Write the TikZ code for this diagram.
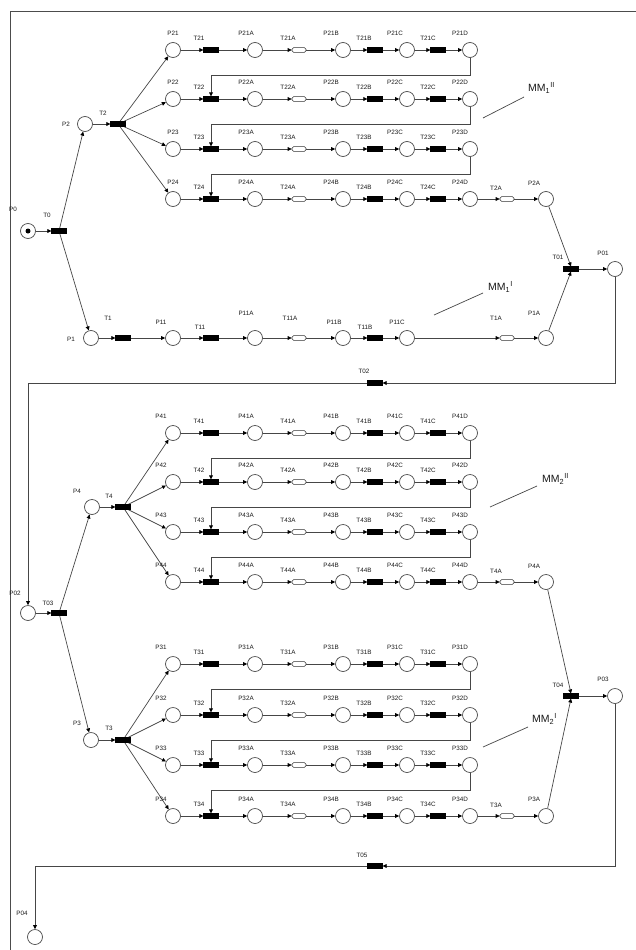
\documentclass[tikz,border=0pt]{standalone}
\usepackage{fontspec}
\setmainfont{Liberation Sans}
\usetikzlibrary{arrows.meta}
\pgfdeclarelayer{bg}
\pgfsetlayers{bg,main}
\tikzset{
 place/.style={circle,draw=gray!60!black,fill=white,line width=0.7pt,minimum size=15pt,inner sep=0pt},
 tbar/.style={rectangle,fill=black,draw=black,line width=0.3pt,minimum width=15pt,minimum height=4.8pt,inner sep=0pt},
 tbarh/.style={rectangle,rounded corners=1.6pt,fill=white,draw=black!80,line width=0.55pt,minimum width=14pt,minimum height=4.8pt,inner sep=0pt},
 lbl/.style={font=\fontsize{6.3}{7}\selectfont,inner sep=0pt,text=black!90},
 arc/.style={draw=gray!55!black,line width=0.7pt,-{Triangle[length=4pt,width=3.8pt,color=black]}},
 wire/.style={draw=gray!55!black,line width=0.7pt},
 mm/.style={font=\fontsize{10.5}{12}\selectfont,anchor=west,inner sep=0pt,text=black!90},
 token/.style={circle,fill=black,inner sep=0pt,minimum size=5pt},
}
\begin{document}
\begin{tikzpicture}[x=1pt,y=-1pt]
\useasboundingbox (0,0) rectangle (636,950);
\draw[line width=0.9pt,draw=black!70] (10,950) -- (10,11) -- (636,11);

% ---------- main places / transitions ----------
\node[place] (P0) at (28,231) {};
\node[token] (tok) at (P0) {};
\node[tbar] (T0) at (59,231) {};
\node[place] (P2) at (85,124) {};
\node[tbar] (T2) at (118,124) {};
\node[place] (P1) at (91,338) {};
\node[tbar] (T1) at (123,338) {};
\node[place] (P11) at (173,338) {};
\node[tbar] (T11) at (211,338) {};
\node[place] (P11A) at (255,338) {};
\node[tbarh] (T11A) at (299,338) {};
\node[place] (P11B) at (343,338) {};
\node[tbar] (T11B) at (375,338) {};
\node[place] (P11C) at (407,338) {};
\node[tbarh] (T1A) at (507,338) {};
\node[place] (P1A) at (546,338) {};
\node[tbar] (T01) at (571,269) {};
\node[place] (P01) at (615,269) {};
\node[tbar] (T02) at (375,383) {};
\node[place] (P02) at (28,613) {};
\node[tbar] (T03) at (59,613) {};
\node[place] (P4) at (92,507) {};
\node[tbar] (T4) at (123,507) {};
\node[place] (P3) at (91,740) {};
\node[tbar] (T3) at (123,740) {};
\node[tbar] (T04) at (571,696) {};
\node[place] (P03) at (615,696) {};
\node[tbar] (T05) at (375,866) {};
\node[place] (P04) at (35,937) {};
\node[tbarh] (T2A) at (507,199) {};
\node[place] (P2A) at (546,199) {};
\node[tbarh] (T4A) at (507,582) {};
\node[place] (P4A) at (546,582) {};
\node[tbarh] (T3A) at (507,816) {};
\node[place] (P3A) at (546,816) {};

% ---------- labels (main) ----------
\node[lbl] (lP0) at (13,209) {P0};
\node[lbl] (lT0) at (47,215) {T0};
\node[lbl] (lP2) at (66,124) {P2};
\node[lbl] (lT2) at (103,113) {T2};
\node[lbl] (lP1) at (71,339) {P1};
\node[lbl] (lT1) at (108,318) {T1};
\node[lbl] (lP11) at (161,322) {P11};
\node[lbl] (lT11) at (200,327) {T11};
\node[lbl] (lP11A) at (246,313) {P11A};
\node[lbl] (lT11A) at (290,318) {T11A};
\node[lbl] (lP11B) at (334,322) {P11B};
\node[lbl] (lT11B) at (365,327) {T11B};
\node[lbl] (lP11C) at (397,322) {P11C};
\node[lbl] (lT1A) at (496,318) {T1A};
\node[lbl] (lP1A) at (534,313) {P1A};
\node[lbl] (lT01) at (558,257) {T01};
\node[lbl] (lP01) at (603,253) {P01};
\node[lbl] (lT02) at (364,371) {T02};
\node[lbl] (lP02) at (15,593) {P02};
\node[lbl] (lT03) at (48,603) {T03};
\node[lbl] (lP4) at (77,491) {P4};
\node[lbl] (lT4) at (109,496) {T4};
\node[lbl] (lP3) at (77,723) {P3};
\node[lbl] (lT3) at (109,728) {T3};
\node[lbl] (lT04) at (558,685) {T04};
\node[lbl] (lP03) at (603,679) {P03};
\node[lbl] (lT05) at (362,855) {T05};
\node[lbl] (lP04) at (22,913) {P04};
\node[lbl] (lT2A) at (496,188) {T2A};
\node[lbl] (lP2A) at (534,183) {P2A};
\node[lbl] (lT4A) at (496,571) {T4A};
\node[lbl] (lP4A) at (534,566) {P4A};
\node[lbl] (lT3A) at (496,805) {T3A};
\node[lbl] (lP3A) at (534,799) {P3A};

% ---------- branch rows ----------
\foreach \gi/\ri/\yy/\lx in {2/1/50/173,2/2/99/173,2/3/149/173,2/4/199/173,4/1/433/161,4/2/482/161,4/3/532/161,4/4/582/161,3/1/664/161,3/2/715/161,3/3/765/161,3/4/816/161}{
 \node[place] (P\gi\ri) at (173,\yy) {};
 \node[tbar] (T\gi\ri) at (211,\yy) {};
 \node[place] (P\gi\ri A) at (255,\yy) {};
 \node[tbarh] (T\gi\ri A) at (299,\yy) {};
 \node[place] (P\gi\ri B) at (343,\yy) {};
 \node[tbar] (T\gi\ri B) at (375,\yy) {};
 \node[place] (P\gi\ri C) at (407,\yy) {};
 \node[tbar] (T\gi\ri C) at (438,\yy) {};
 \node[place] (P\gi\ri D) at (470,\yy) {};
 \node[lbl] (lP\gi\ri) at (\lx,\yy-17) {P\gi\ri};
 \node[lbl] (lT\gi\ri) at (199,\yy-12) {T\gi\ri};
 \node[lbl] (lP\gi\ri A) at (246,\yy-17) {P\gi\ri A};
 \node[lbl] (lT\gi\ri A) at (288,\yy-12) {T\gi\ri A};
 \node[lbl] (lP\gi\ri B) at (331,\yy-17) {P\gi\ri B};
 \node[lbl] (lT\gi\ri B) at (364,\yy-12) {T\gi\ri B};
 \node[lbl] (lP\gi\ri C) at (395,\yy-17) {P\gi\ri C};
 \node[lbl] (lT\gi\ri C) at (428,\yy-12) {T\gi\ri C};
 \node[lbl] (lP\gi\ri D) at (460,\yy-17) {P\gi\ri D};
 \draw[arc] (P\gi\ri) -- (T\gi\ri);
 \draw[arc] (T\gi\ri) -- (P\gi\ri A);
 \draw[arc] (P\gi\ri A) -- (T\gi\ri A);
 \draw[arc] (T\gi\ri A) -- (P\gi\ri B);
 \draw[arc] (P\gi\ri B) -- (T\gi\ri B);
 \draw[arc] (T\gi\ri B) -- (P\gi\ri C);
 \draw[arc] (P\gi\ri C) -- (T\gi\ri C);
 \draw[arc] (T\gi\ri C) -- (P\gi\ri D);
 \begin{pgfonlayer}{bg}
  \draw[arc] (T\gi.center) -- (P\gi\ri);
 \end{pgfonlayer}
}

% feedback connectors
\foreach \gi/\ri/\rn/\yy in {2/1/2/50,2/2/3/99,2/3/4/149,4/1/2/433,4/2/3/482,4/3/4/532,3/1/2/664,3/2/3/715,3/3/4/765}{
 \draw[arc] (P\gi\ri D.south) -- (470,\yy+25) -| (T\gi\rn.north);
}

% last-row tails
\foreach \gi in {2,4,3}{
 \draw[arc] (P\gi4D) -- (T\gi A);
 \draw[arc] (T\gi A) -- (P\gi A);
}

% ---------- main connectors ----------
\draw[arc] (P0) -- (T0);
\begin{pgfonlayer}{bg}
 \draw[arc] (T0.center) -- (P2);
 \draw[arc] (T0.center) -- (P1);
 \draw[arc] (T03.center) -- (P4);
 \draw[arc] (T03.center) -- (P3);
\end{pgfonlayer}
\draw[arc] (P2) -- (T2);
\draw[arc] (P1) -- (T1);
\draw[arc] (T1) -- (P11);
\draw[arc] (P11) -- (T11);
\draw[arc] (T11) -- (P11A);
\draw[arc] (P11A) -- (T11A);
\draw[arc] (T11A) -- (P11B);
\draw[arc] (P11B) -- (T11B);
\draw[arc] (T11B) -- (P11C);
\draw[arc] (P11C) -- (T1A);
\draw[arc] (T1A) -- (P1A);
\draw[arc] (P2A) -- (T01.north);
\draw[arc] (P1A) -- (T01.south);
\draw[arc] (T01) -- (P01);
\draw[arc] (P01) -- (615,383) -- (T02.east);
\draw[arc] (T02.west) -- (28,383) -- (P02);
\draw[arc] (P02) -- (T03);
\draw[arc] (P4) -- (T4);
\draw[arc] (P3) -- (T3);
\draw[arc] (P4A) -- (T04.north);
\draw[arc] (P3A) -- (T04.south);
\draw[arc] (T04) -- (P03);
\draw[arc] (P03) -- (615,866) -- (T05.east);
\draw[arc] (T05.west) -- (35,866) -- (P04);

% ---------- module annotations ----------
\node[mm] (mm1b) at (528,88) {MM\textsubscript{1}\textsuperscript{II}};
\coordinate (a1) at (483,118); \coordinate (b1) at (524,97);
\draw[wire] (a1) -- (b1);
\node[mm] (mm1a) at (488,287) {MM\textsubscript{1}\textsuperscript{I}};
\coordinate (a2) at (434,315); \coordinate (b2) at (483,293);
\draw[wire] (a2) -- (b2);
\node[mm] (mm2b) at (542,479) {MM\textsubscript{2}\textsuperscript{II}};
\coordinate (a3) at (490,507); \coordinate (b3) at (537,486);
\draw[wire] (a3) -- (b3);
\node[mm] (mm2a) at (532,719) {MM\textsubscript{2}\textsuperscript{I}};
\coordinate (a4) at (483,747); \coordinate (b4) at (528,727);
\draw[wire] (a4) -- (b4);
\end{tikzpicture}
\end{document}
